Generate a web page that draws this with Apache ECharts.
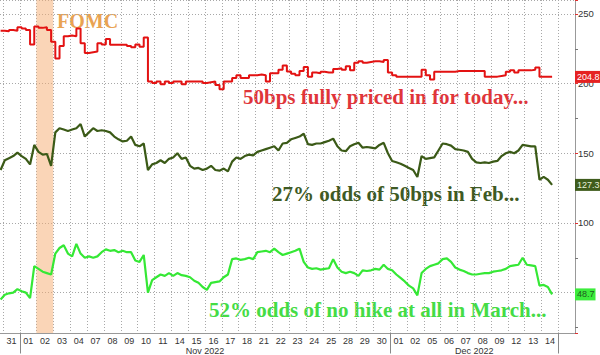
<!DOCTYPE html>
<html><head><meta charset="utf-8">
<script src="https://cdn.jsdelivr.net/npm/echarts@6/dist/echarts.min.js"></script>
<style>html,body{margin:0;padding:0;background:#fff}#c{width:600px;height:355px}</style>
</head><body><div id="c"></div><script>
// trading days shown on the x axis (Oct 31 2022 - Dec 14 2022)
const days = ['31','01','02','03','04','07','08','09','10','11','14','15','16','17','18','21','22','23','24','25','28','29','30','01','02','05','06','07','08','09','12','13','14'];
const monthNames = ['', 'Nov 2022', 'Dec 2022'];
const fomcDayIndex = 2;            // Nov 02
const samplesPerDay = 4;           // intraday readings per trading day
const hiddenYLabels = [50];        // covered by the last-value tag in the original

// bps of hikes priced for the Dec meeting
const decPricedBps = [238,237.5,238.5,238,240.5,239.5,238.5,228,241,240,240.5,238.5,230,218,227,234,234.5,234,239.5,229,222,222.5,223,229,228,232,227.8,227.8,227.8,227.8,227,226,228,226.5,233,201.5,200.5,201.5,199.5,201.5,200.5,201.5,201.5,199.5,201.5,201.5,201.5,201.5,200.5,201,201.5,199,196,201.5,201.5,204,206,204,204,206,206,206.5,206,201.5,207.5,207.5,210,213,
208.7,207,206,209,212,205,208,207.5,208.5,208,208,210.5,211,210,212.5,209.5,215,216,215,215.5,216,216,215.5,217,208,206,205,205,205,205,205,205,210,206,203,208.5,208.5,208.5,208.5,208.5,209,209,209,209,209,209,209,205,205,205,205.5,206,208.5,209.5,208,209.5,209.5,209.5,210,211.5,205,205,205,204.8];
// Feb meeting
const febOdds = [138,145,146.5,148,150.5,148,146,142,156,151,149,149.5,141,165,168,167,166,167,168,171,162,165,168,166,166.5,166,165,162,160,158.5,159,162,156,155,157,138,142,143,145,143,146,147,150,146,147,141,139,139.5,138,139,141,138,137.5,139,137,144,147,146,148,149,148.5,151,152,153,154,155,152,157,
157.5,160,161,162,164,156.5,156,157,157,158,159,160.5,155,152,151.5,155,156.5,157.5,154,154.5,154,153.5,156,157.5,150,144.5,143.5,142.5,141,139.5,138,133,148,146,146.5,147,152,157,156.5,155.5,153,152.5,152,151,146,143.5,143,143.5,143,144,144.5,148,150,151,150,152,156,155.5,155,155,131,133,131,127.3];
// March meeting
const marchOdds = [45,48.5,49.5,50,52.5,51,50,46,69,67,65,64,63,78,82,84,78,76,85,78,75,76,75,76,79,81,80,80.5,79,80,79,79,73,72,77,50,59,61,63,62,64,62,64,62.5,62,61,58.5,57,54,52,57,57.5,58,61,63,74,74.5,73.5,74,75,74,79,79.5,80,79,81.5,79,77,
78,79,80,81.5,72,68,67,67.5,66.5,67,67.5,74,68,65,64,65,64,62,66,65.5,66,67,66.5,70,67,66,63,60.5,58,55,53,48,64,67,69,70,71,74,74.5,72,68,66.5,65.5,64,63,63,63.5,64,64,65,65.5,66,67,69,69.5,70,75,70,69.5,69,55,55.5,54,48.7];

// ---- build ----
const toPairs = arr => arr.map((v, i) => [(i - 0.5) / samplesPerDay, v]);
const segs = [];
days.forEach((d, i) => {
  if (i === 0 || parseInt(d, 10) < parseInt(days[i - 1], 10)) segs.push({ start: i, end: i + 1 });
  else segs[segs.length - 1].end = i + 1;
});
const monthStarts = segs.slice(1).map(s => s.start);
const monthAt = {};
segs.forEach((s, k) => { if (monthNames[k]) monthAt[(s.start + s.end) / 2] = monthNames[k]; });

const dotted = { type: [1, 2], color: '#a8a8a8', width: 1 };
const tag = (arr, bg, fg) => ({
  silent: true, symbol: 'none', animation: false,
  lineStyle: { color: 'transparent', width: 0 },
  label: { show: true, position: 'end', distance: 0, formatter: String(arr[arr.length - 1]),
    backgroundColor: bg, color: fg, fontSize: 9, fontFamily: 'Liberation Sans', padding: [2, 1, 1, 2] },
  data: [{ yAxis: arr[arr.length - 1] }]
});
const serif = 'bold 21px "Liberation Serif"';
const axisFont = { fontSize: 9, lineHeight: 9, color: '#333', fontFamily: 'Liberation Sans' };

const chart = echarts.init(document.getElementById('c'), null, { renderer: 'svg' });
chart.setOption({
  animation: false,
  backgroundColor: '#fff',
  grid: [
    { left: 0, right: 25, top: 0, bottom: 22 },
    { left: 2.7, right: 41.6, top: 0, bottom: 22 }
  ],
  xAxis: [
    { type: 'value', gridIndex: 0, min: -0.16, max: 33.985,
      axisLine: { show: true, onZero: false, lineStyle: { color: '#999' } }, axisTick: { show: false },
      axisLabel: { show: false }, splitLine: { show: false } },
    { type: 'category', gridIndex: 1, data: days, boundaryGap: true, position: 'bottom',
      axisLine: { show: false, onZero: false },
      axisTick: { show: true, interval: (i) => monthStarts.includes(i), length: 21, lineStyle: { color: '#888' } },
      axisLabel: Object.assign({ interval: 0, margin: 4 }, axisFont),
      splitLine: { show: true, interval: 0, lineStyle: dotted } },
    { type: 'value', gridIndex: 1, min: 0, max: days.length, interval: 1, position: 'bottom', offset: 0,
      axisLine: { show: false, onZero: false }, axisTick: { show: false }, splitLine: { show: false },
      axisLabel: Object.assign({ margin: 13.5, formatter: v => monthAt[v] || '' }, axisFont) }
  ],
  yAxis: [
    { type: 'value', gridIndex: 0, position: 'right', min: 21, max: 260, splitNumber: 5,
      axisLine: { show: true, onZero: false, lineStyle: { color: '#999' } },
      axisTick: { show: true, length: 3, lineStyle: { color: '#e03030' } },
      minorTick: { show: true, splitNumber: 2, length: 3, lineStyle: { color: '#777' } },
      axisLabel: Object.assign({ margin: 3, showMinLabel: false, showMaxLabel: false,
        formatter: v => hiddenYLabels.includes(v) ? '' : String(v) }, axisFont, { fontSize: 9.5 }),
      splitLine: { show: true, lineStyle: dotted } },
    { type: 'value', gridIndex: 1, show: false, min: 0, max: 1 }
  ],
  series: [
    { type: 'line', xAxisIndex: 0, yAxisIndex: 0, data: toPairs(decPricedBps), showSymbol: false, step: 'end',
      lineStyle: { color: '#e31212', width: 2 }, z: 3,
      markArea: { silent: true, itemStyle: { color: 'rgba(246,172,112,0.5)' },
        data: [[{ xAxis: fomcDayIndex }, { xAxis: fomcDayIndex + 1 }]] },
      markLine: tag(decPricedBps, '#e52222', '#fff') },
    { type: 'line', xAxisIndex: 0, yAxisIndex: 0, data: toPairs(febOdds), showSymbol: false,
      lineStyle: { color: '#3b5a17', width: 2.2 }, z: 3,
      markLine: tag(febOdds, '#3f5c1c', '#e6efd8') },
    { type: 'line', xAxisIndex: 0, yAxisIndex: 0, data: toPairs(marchOdds), showSymbol: false,
      lineStyle: { color: '#35e835', width: 2.2 }, z: 3,
      markLine: tag(marchOdds, '#3cec3c', '#1f5a1f') }
  ],
  graphic: [
    { type: 'text', left: 57, top: 11, style: { text: 'FOMC', font: 'bold 20px "Liberation Serif"', fill: '#e9a352' } },
    { type: 'text', left: 243, top: 86, style: { text: '50bps fully priced in for today...', font: serif, fill: '#e0353a' } },
    { type: 'text', left: 272, top: 183, style: { text: '27% odds of 50bps in Feb...', font: serif, fill: '#3e5a24' } },
    { type: 'text', left: 209, top: 299, style: { text: '52% odds of no hike at all in March...', font: serif, fill: '#45dc45' } }
  ]
});
</script></body></html>
